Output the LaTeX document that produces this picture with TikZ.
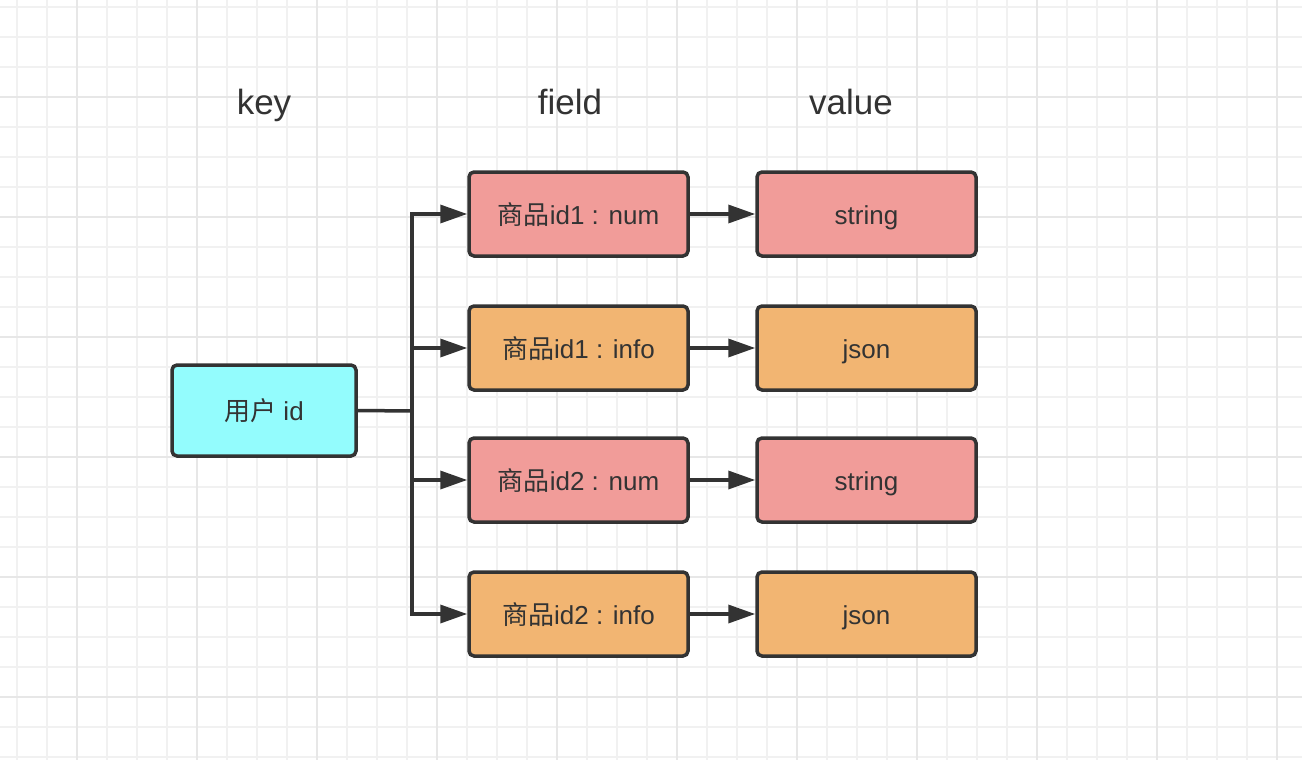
\documentclass[tikz,border=0pt]{standalone}
\usepackage{fontspec}
\setmainfont{Liberation Sans}
\newfontfamily\cjk{Noto Sans CJK SC}
\usetikzlibrary{arrows.meta}

\definecolor{ink}{HTML}{333333}
\definecolor{numred}{HTML}{F19C99}
\definecolor{infoorange}{HTML}{F2B572}
\definecolor{keycyan}{HTML}{93FCFD}
\definecolor{gridminor}{HTML}{F1F1F1}
\definecolor{gridmajor}{HTML}{E7E7E7}

\begin{document}
\begin{tikzpicture}[x=1pt, y=-1pt,
    box/.style={draw=ink, line width=3.5pt, rounded corners=5pt, text=ink,
      font=\fontsize{26}{30}\selectfont, minimum width=219pt,
      minimum height=84pt, inner sep=0pt, text height=24pt, text depth=4pt},
    head/.style={text=ink, font=\fontsize{35}{40}\selectfont, anchor=base},
    link/.style={draw=ink, line width=3.5pt, -{Triangle[length=27pt, width=18pt]}}]

        \fill[white] (0, 0) rectangle (1302, 760);
        \useasboundingbox (0, 0) rectangle (1302, 760);

        % background grid
        \foreach \x in {17, 47, ..., 1300}
          \draw [gridminor, line width=1.5pt] (\x, 0) -- (\x, 760);
        \foreach \y in {7, 37, ..., 760}
          \draw [gridminor, line width=1.5pt] (0, \y) -- (1302, \y);
        \foreach \x in {77, 197, ..., 1300}
          \draw [gridmajor, line width=2pt] (\x, 0) -- (\x, 760);
        \foreach \y in {97, 217, ..., 760}
          \draw [gridmajor, line width=2pt] (0, \y) -- (1302, \y);

        \node [head] (keyhead) at (264, 114) {key};
        \node [head] (fieldhead) at (570, 114) {field};
        \node [head] (valuehead) at (851, 114) {value};

        \node [box, fill=keycyan, minimum width=184pt, minimum height=91pt] (user) at (264, 410.5) {{\cjk 用户} id};

        \node [box, fill=numred] (num1) at (578.5, 214) {{\cjk 商品}id1 : num};
        \node [box, fill=infoorange] (info1) at (578.5, 348) {{\cjk 商品}id1 : info};
        \node [box, fill=numred] (num2) at (578.5, 480) {{\cjk 商品}id2 : num};
        \node [box, fill=infoorange] (info2) at (578.5, 614) {{\cjk 商品}id2 : info};

        \node [box, fill=numred] (str1) at (866.5, 214) {string};
        \node [box, fill=infoorange] (json1) at (866.5, 348) {json};
        \node [box, fill=numred] (str2) at (866.5, 480) {string};
        \node [box, fill=infoorange] (json2) at (866.5, 614) {json};

        \coordinate (fork) at (412, 411);
        \draw [ink, line width=3.5pt] (user.east) -- (fork);
        \foreach \f in {num1, info1, num2, info2}
          \draw [link] (fork) |- (\f.west);

        \draw [link] (num1) -- (str1);
        \draw [link] (info1) -- (json1);
        \draw [link] (num2) -- (str2);
        \draw [link] (info2) -- (json2);
     \end{tikzpicture}
\end{document}
